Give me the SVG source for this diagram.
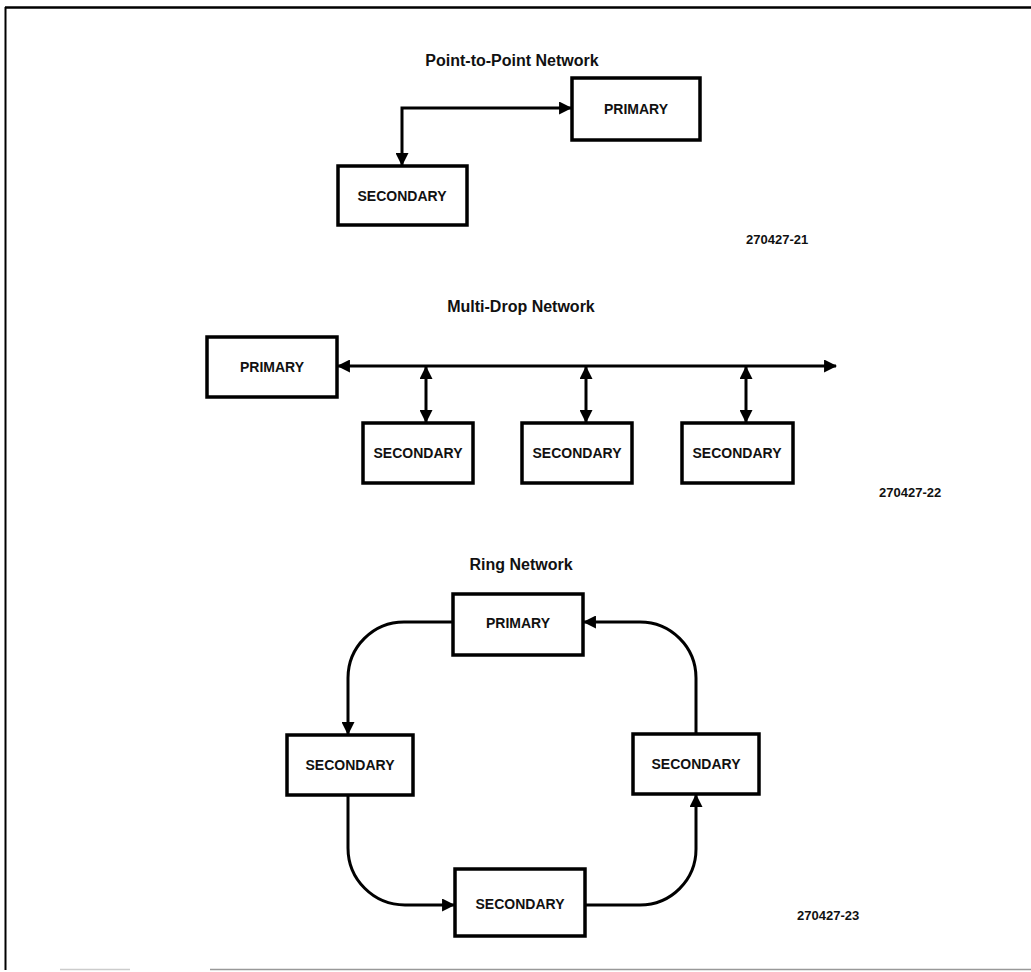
<svg xmlns="http://www.w3.org/2000/svg" width="1031" height="972" viewBox="0 0 1031 972">
<style>
.box{fill:#fff;stroke:#000;stroke-width:3.5}
.lbl{font-family:"Liberation Sans",Arial,sans-serif;font-weight:bold;font-size:14px;text-anchor:middle;fill:#111}
.title{font-family:"Liberation Sans",Arial,sans-serif;font-weight:bold;font-size:16px;text-anchor:middle;fill:#111}
.num{font-family:"Liberation Sans",Arial,sans-serif;font-weight:bold;font-size:13px;text-anchor:start;fill:#111}
.wire{fill:none;stroke:#000;stroke-width:3}
</style>
<defs>
<marker id="ah" viewBox="0 0 12 12" refX="11" refY="6" markerWidth="13" markerHeight="13" markerUnits="userSpaceOnUse" orient="auto-start-reverse">
<path d="M0,0 L12,6 L0,12 z" fill="#000"/>
</marker>
</defs>
<rect width="1031" height="972" fill="#fff"/>
<g id="frame">
<line x1="5" y1="7.5" x2="1031" y2="7.5" stroke="#000" stroke-width="2.5"/>
<line x1="5.5" y1="7" x2="5.5" y2="970" stroke="#000" stroke-width="2"/>
<line x1="210" y1="969.5" x2="1031" y2="969.5" stroke="#999" stroke-width="1.5"/>
<line x1="60" y1="969.5" x2="130" y2="969.5" stroke="#ccc" stroke-width="1.5"/>
</g>
<g id="titles">
<text class="title" x="512" y="66">Point-to-Point Network</text>
<text class="title" x="521" y="312">Multi-Drop Network</text>
<text class="title" x="521" y="570">Ring Network</text>
<text class="num" x="746" y="244">270427-21</text>
<text class="num" x="879" y="497">270427-22</text>
<text class="num" x="797" y="920">270427-23</text>
</g>
<g id="connectors">
<path class="wire" d="M402,165 V108 H571" marker-start="url(#ah)" marker-end="url(#ah)"/>
<line class="wire" x1="338" y1="366" x2="836" y2="366" marker-start="url(#ah)" marker-end="url(#ah)"/>
<line class="wire" x1="426" y1="367" x2="426" y2="422" marker-start="url(#ah)" marker-end="url(#ah)"/>
<line class="wire" x1="586" y1="367" x2="586" y2="422" marker-start="url(#ah)" marker-end="url(#ah)"/>
<line class="wire" x1="746" y1="367" x2="746" y2="422" marker-start="url(#ah)" marker-end="url(#ah)"/>
<path class="wire" d="M453,622 H404 A56,56 0 0 0 348,678 V734" marker-end="url(#ah)"/>
<path class="wire" d="M348,796 V848 A57,57 0 0 0 405,905 H454" marker-end="url(#ah)"/>
<path class="wire" d="M585,905 H640 A56,56 0 0 0 696,849 V795" marker-end="url(#ah)"/>
<path class="wire" d="M696,733 V678 A56,56 0 0 0 640,622 H584" marker-end="url(#ah)"/>
</g>
<g id="p2p-primary"><rect class="box" x="572" y="78" width="128" height="62"/><text class="lbl" x="636" y="114">PRIMARY</text></g>
<g id="p2p-secondary"><rect class="box" x="338" y="166" width="129" height="59"/><text class="lbl" x="402" y="201">SECONDARY</text></g>
<g id="md-primary"><rect class="box" x="207" y="337" width="130" height="60"/><text class="lbl" x="272" y="372">PRIMARY</text></g>
<g id="md-secondary-1"><rect class="box" x="363" y="423" width="110" height="60"/><text class="lbl" x="418" y="458">SECONDARY</text></g>
<g id="md-secondary-2"><rect class="box" x="522" y="423" width="110" height="60"/><text class="lbl" x="577" y="458">SECONDARY</text></g>
<g id="md-secondary-3"><rect class="box" x="682" y="423" width="111" height="60"/><text class="lbl" x="737" y="458">SECONDARY</text></g>
<g id="ring-primary"><rect class="box" x="453" y="594" width="130" height="61"/><text class="lbl" x="518" y="628">PRIMARY</text></g>
<g id="ring-secondary-left"><rect class="box" x="287" y="735" width="126" height="60"/><text class="lbl" x="350" y="770">SECONDARY</text></g>
<g id="ring-secondary-right"><rect class="box" x="633" y="734" width="126" height="60"/><text class="lbl" x="696" y="769">SECONDARY</text></g>
<g id="ring-secondary-bottom"><rect class="box" x="455" y="869" width="130" height="67"/><text class="lbl" x="520" y="909">SECONDARY</text></g>
</svg>
